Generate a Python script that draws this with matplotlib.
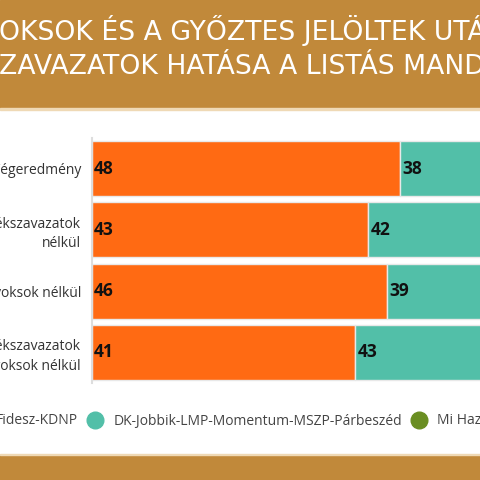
import numpy as np
import matplotlib.pyplot as plt
from matplotlib.patches import Rectangle
from matplotlib.lines import Line2D

# list mandates by scenario (the picture is a crop of a wider chart)
categories = ['Végeredmény', 'Töredékszavazatok\nnélkül',
              'Levélvoksok nélkül', 'Töredékszavazatok\nés levélvoksok nélkül']
fidesz = [48, 43, 46, 41]
ellenzek = [38, 42, 39, 43]
mi_hazank = [6, 7, 7, 8]   # off the visible area, estimated
series_names = ['Fidesz-KDNP', 'DK-Jobbik-LMP-Momentum-MSZP-Párbeszéd', 'Mi Hazánk']
title_lines = ['OKSOK ÉS A GYŐZTES JELÖLTEK UTÁNI', 'ZAVAZATOK HATÁSA A LISTÁS MANDÁTUMOKRA']

c_fid = '#FF6A13'
c_ell = '#52BFA8'
c_mi = '#6A8E22'
c_band = '#C1893A'

plt.rcParams['font.family'] = ['Open Sans', 'DejaVu Sans']

W, H = 480, 480
fig = plt.figure(figsize=(W/100, H/100), dpi=100)

def px(x, y):  # pixel (from top-left) -> figure fraction
    return x / W, 1 - y / H

# title band + bottom band
fig.patches.append(Rectangle((0, 1 - 108/H), 1, 108/H, transform=fig.transFigure,
                             color=c_band, zorder=0))
fig.patches.append(Rectangle((0, 1 - 110/H), 1, 2/H, transform=fig.transFigure,
                             color='#EFD9B5', zorder=0))
fig.patches.append(Rectangle((0, 0), 1, 25/H, transform=fig.transFigure,
                             color=c_band, zorder=0))
fig.patches.append(Rectangle((0, 25/H), 1, 1.5/H, transform=fig.transFigure,
                             color='#EFD9B5', zorder=0))

for i, line in enumerate(title_lines):
    fig.text(*px(-1, 39.5 + i * 34), line, color='white', fontsize=19.2,
             family=['DejaVu Sans'], ha='left', va='baseline')

# bars
top, bottom = 138, 383
ax = fig.add_axes([92/W, 1 - bottom/H, (W - 92)/W, (bottom - top)/H])
y = np.arange(len(categories))
left = np.zeros(len(categories))
for vals, col in zip([fidesz, ellenzek, mi_hazank], [c_fid, c_ell, c_mi]):
    ax.barh(y, vals, left=left, height=0.9, color=col, edgecolor='#E8E8E8', linewidth=1)
    for yi, (l, v) in enumerate(zip(left, vals)):
        ax.text(l + 0.35, yi, str(v), va='center', ha='left', fontsize=12.5,
                fontweight='bold', color='#111111', clip_on=True)
    left = left + np.array(vals)

ax.set_xlim(0, 60.4)
ax.set_ylim(len(categories) - 0.5, -0.5)
ax.set_yticks(y)
ax.set_yticklabels(categories, fontsize=10, color='#333333', linespacing=1.4)
ax.tick_params(axis='y', length=0, pad=8)
ax.set_xticks([])
for s in ['top', 'right', 'bottom']:
    ax.spines[s].set_visible(False)
ax.spines['left'].set_color('#DDDDDD')
ax.spines['left'].set_linewidth(1.5)

# legend
handles = [Line2D([], [], marker='o', ls='', markersize=12, color=c)
           for c in [c_fid, c_ell, c_mi]]
fig.legend(handles, series_names, loc='center left', bbox_to_anchor=(-0.078, 1 - 421/H),
           ncol=3, frameon=False, fontsize=10, labelcolor='#444444',
           handletextpad=0.7, columnspacing=0.65, borderpad=0, handlelength=1.2)

fig.savefig('out.png', dpi=100)
